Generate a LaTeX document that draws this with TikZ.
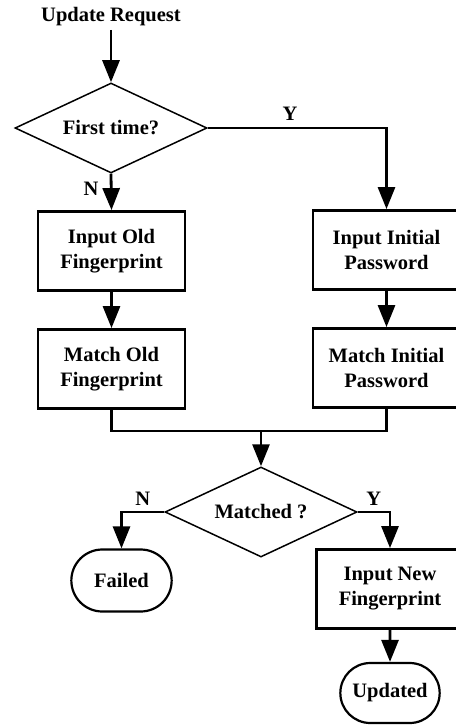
\documentclass[tikz,border=0pt]{standalone}
\usepackage{fontspec}
\setmainfont{Liberation Serif}
\usetikzlibrary{arrows.meta,shapes.geometric,shapes.misc}

\begin{document}
\begin{tikzpicture}[x=1pt,y=-1pt,>={Triangle[length=22pt,width=17pt]},every node/.style={font=\bfseries\fontsize{20.5}{25}\selectfont},flow/.style={->,line width=2.8pt},joint/.style={line width=2.8pt},box/.style={draw,line width=2.8pt,align=center,minimum width=147pt,minimum height=79pt,inner sep=0pt},decision/.style={draw,diamond,aspect=2.13,line width=1.5pt,minimum width=192pt,minimum height=90pt,inner sep=0pt},term/.style={draw,rounded rectangle,line width=2.2pt,minimum width=107pt,minimum height=62pt}]
\useasboundingbox (0,0) rectangle (455,725);
\node (req) at (111,17) {Update Request};
\node[decision] (first) at (111,128) {First time?};
\node[box] (oldin) at (111.5,251) {Input Old\\Fingerprint};\node[box] (oldmatch) at (111.5,369) {Match Old\\Fingerprint};
\node[box] (pwdin) at (386.5,250) {Input Initial\\Password};\node[box] (pwdmatch) at (386.5,368) {Match Initial\\Password};
\coordinate (merge) at (261,431);
\node[decision] (matched) at (261,512) {Matched ?};
\node[term] (failed) at (121.5,580.5) {Failed};
\node[box] (newin) at (390,589) {Input New\\Fingerprint};
\node[term,minimum width=106pt,minimum height=60pt] (done) at (390,693) {Updated};
% first check
\draw[flow] (req) -- (first.north);
\draw[flow] (first.south) -- node[pos=.4,left=8pt] {N} (oldin.north);
\draw[flow] (first.east) -- node[pos=.46,above=3pt] {Y} (first.east -| pwdin.north) -- (pwdin.north);
\draw[flow] (oldin) -- (oldmatch);\draw[flow] (pwdin) -- (pwdmatch);
% join both branches
\draw[joint] (oldmatch.south) |- (merge) -| (pwdmatch.south);
\draw[flow] (merge) -- (matched.north);
\draw[flow] (matched.west) -- node[above=2pt] {N} (matched.west -| failed.north) -- (failed.north);
\draw[flow] (matched.east) -- node[above=2pt] {Y} (matched.east -| newin.north) -- (newin.north);
\draw[flow] (newin) -- (done);
\end{tikzpicture}
\end{document}
